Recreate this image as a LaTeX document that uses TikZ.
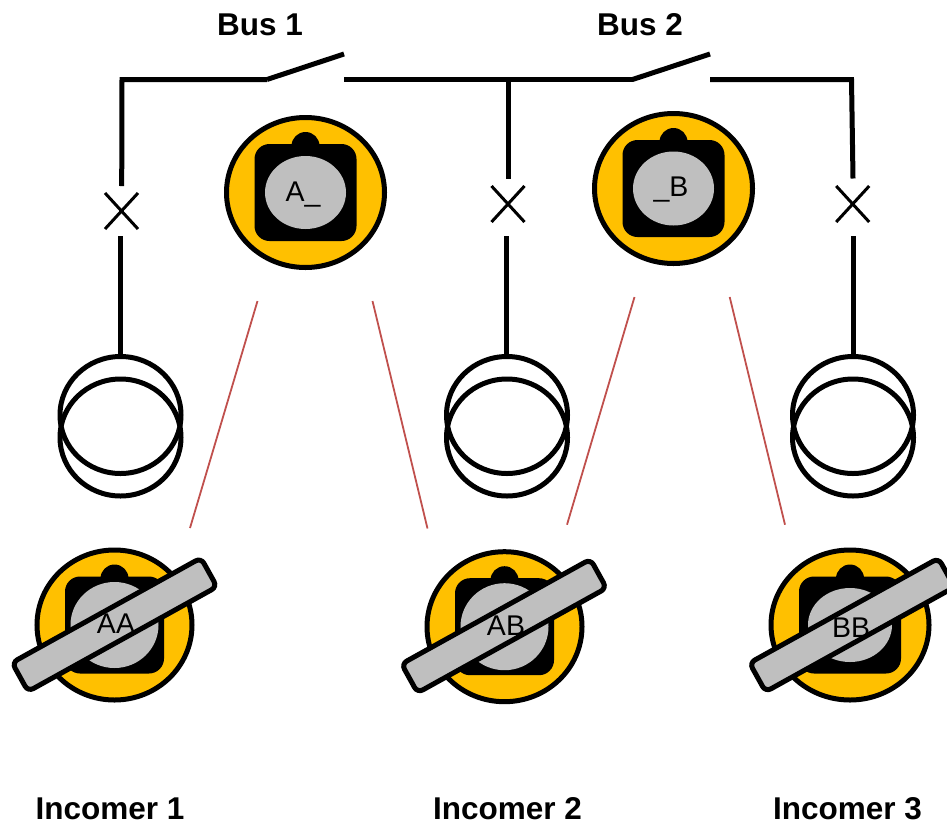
\documentclass[tikz,border=0pt]{standalone}
\usepackage{fontspec}
\setmainfont{Liberation Sans}
\usetikzlibrary{shapes.geometric,shapes.misc}
\definecolor{ringyellow}{HTML}{FFC000}
\definecolor{knobgrey}{HTML}{BFBFBF}
\definecolor{keyred}{HTML}{C0504D}
\tikzset{
  wire/.style={draw=black,line width=5pt,line cap=butt,line join=miter},
  keyline/.style={draw=keyred,line width=1.8pt},
  breaker/.style={cross out,draw=black,line width=3pt,inner sep=0pt,outer sep=0pt,minimum width=33pt,minimum height=36pt},
  winding/.style={ellipse,draw=black,line width=5pt,inner sep=0pt,minimum width=121pt,minimum height=117pt},
  ring/.style={ellipse,draw=black,fill=ringyellow,line width=5pt,inner sep=0pt},
  lockbody/.style={rectangle,fill=black,rounded corners=15pt,inner sep=0pt},
  lockbump/.style={circle,fill=black,inner sep=0pt,minimum size=28pt},
  knob/.style={ellipse,fill=knobgrey,inner sep=0pt},
  keytext/.style={inner sep=0pt,font=\fontsize{28.5}{28.5}\selectfont},
  title/.style={inner sep=0pt,font=\fontsize{31.5}{31.5}\selectfont\bfseries},
  barlock/.style={rectangle,draw=black,fill=knobgrey,line width=5pt,rounded corners=6pt,inner sep=0pt,minimum width=216pt,minimum height=33pt,rotate=29}
}
\newcommand{\lockface}[7]{% name,x,y,body w,body h,knob w,knob h
  \node[ring,minimum width=#4+56pt,minimum height=#5+53pt] (#1ring) at (#2,#3) {};
  \node[lockbump] (#1bump) at (#2,#3-46.5) {};
  \node[lockbody,minimum width=#4,minimum height=#5] (#1body) at (#2,#3) {};
  \node[knob,minimum width=#6,minimum height=#7] (#1knob) at (#2,#3) {};
}
\begin{document}
\begin{tikzpicture}[x=1pt,y=-1pt]
\clip (0,0) rectangle (947,825);
\useasboundingbox (0,0) rectangle (947,825);
% titles
\node[title] (bus1) at (260,25) {Bus 1};
\node[title] (bus2) at (640,25) {Bus 2};
\node[title] (inc1) at (110,809) {Incomer 1};
\node[title] (inc2) at (507.5,809) {Incomer 2};
\node[title] (inc3) at (847.5,809) {Incomer 3};
% bus coordinates
\coordinate (lcorner) at (122,79.5);
\coordinate (sw1a) at (267,79.5);
\coordinate (sw1b) at (344,54);
\coordinate (sw1c) at (344,79.5);
\coordinate (tee) at (508.5,79.5);
\coordinate (sw2a) at (632.5,79.5);
\coordinate (sw2b) at (710,54);
\coordinate (sw2c) at (710,79.5);
\coordinate (rcorner) at (851.5,79.5);
% breakers
\node[breaker] (x1) at (121.5,211) {};
\node[breaker] (x2) at (508,204) {};
\node[breaker] (x3) at (852.7,204) {};
\coordinate (x1t) at (121.7,186);
\coordinate (x2t) at (508.5,178.5);
\coordinate (x3t) at (853,178.5);
\coordinate (x1b) at (120.7,236);
\coordinate (x2b) at (506.8,236);
\coordinate (x3b) at (853,236);
% transformers
\node[winding] (t1a) at (120.5,415) {};
\node[winding] (t1b) at (120.5,437.5) {};
\node[winding] (t2a) at (507,415) {};
\node[winding] (t2b) at (507,437.5) {};
\node[winding] (t3a) at (853,415) {};
\node[winding] (t3b) at (853,437.5) {};
% wires
\draw[wire] (x1t) -- (lcorner) -- (sw1a);
\draw[wire] (sw1a) -- (sw1b);
\draw[wire] (sw1c) -- (sw2a);
\draw[wire] (sw2a) -- (sw2b);
\draw[wire] (sw2c) -- (rcorner) -- (x3t);
\draw[wire] (tee) -- (x2t);
\draw[wire] (x1b) -- (x1b |- t1a.north);
\draw[wire] (x2b) -- (x2b |- t2a.north);
\draw[wire] (x3b) -- (x3b |- t3a.north);
% upper selectors
\lockface{sa}{305.5}{192.5}{102pt}{97pt}{81pt}{73pt}
\node[keytext] (sal) at (303,195) {A\_};
\lockface{sb}{673.5}{188.5}{102pt}{97pt}{81pt}{74pt}
\node[keytext] (sbl) at (671,190) {\_B};
% lower selectors
\lockface{aa}{114.5}{625}{99pt}{97pt}{88pt}{86pt}
\node[barlock] (aabar) at (114.5,624.7) {};
\node[keytext] (aal) at (116,624) {AA};
\lockface{ab}{504.5}{626.7}{99pt}{97pt}{88pt}{87pt}
\node[barlock] (abbar) at (504,626) {};
\node[keytext] (abl) at (506,626) {AB};
\lockface{bb}{850}{625}{102pt}{97pt}{84pt}{74pt}
\node[barlock] (bbbar) at (852,625) {};
\node[keytext] (bbl) at (851,628) {BB};
% key interlock lines
\coordinate (k1a) at (257.5,301);
\coordinate (k1b) at (190,528);
\coordinate (k2a) at (372.5,301);
\coordinate (k2b) at (427.5,528.5);
\coordinate (k3a) at (634.5,297);
\coordinate (k3b) at (567,524.7);
\coordinate (k4a) at (729.7,297);
\coordinate (k4b) at (785,524.7);
\draw[keyline] (k1a) -- (k1b);
\draw[keyline] (k2a) -- (k2b);
\draw[keyline] (k3a) -- (k3b);
\draw[keyline] (k4a) -- (k4b);
\end{tikzpicture}
\end{document}
